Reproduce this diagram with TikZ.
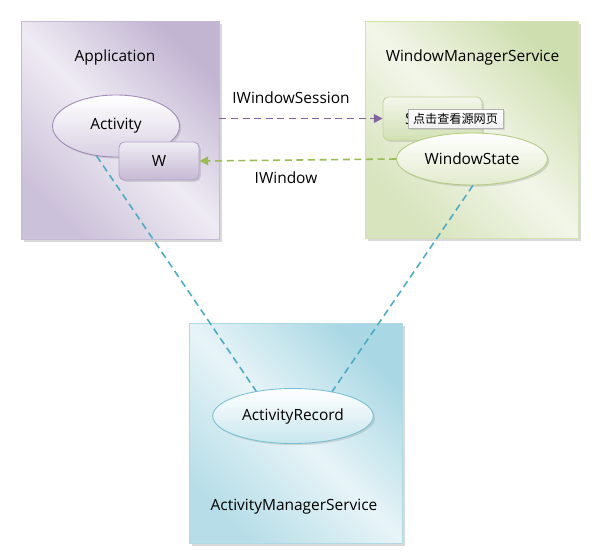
\documentclass[tikz,border=0pt]{standalone}
\usepackage{fontspec}
\setmainfont{Open Sans}
\newfontfamily\cjkfont{Noto Sans CJK SC}
\usetikzlibrary{arrows.meta,shapes.geometric,shadows}

\definecolor{officepurple}{HTML}{8064A2}
\definecolor{officegreen}{HTML}{9BBB59}
\definecolor{officeaqua}{HTML}{4BACC6}

\tikzset{
  panel/.style={draw=#1!45, line width=0.5pt,
    top color=#1!48, bottom color=#1!40, middle color=#1!13, shading angle=-45,
    drop shadow={shadow xshift=1.5pt, shadow yshift=-1.5pt, opacity=0.3}},
  oval/.style={ellipse, draw=#1!75, line width=0.5pt, top color=white, bottom color=#1!30,
    drop shadow={shadow xshift=1pt, shadow yshift=-1pt, opacity=0.25}},
  tab/.style={rectangle, rounded corners=3pt, draw=#1!60, line width=0.5pt,
    top color=#1!12, bottom color=#1!45,
    drop shadow={shadow xshift=1pt, shadow yshift=-1pt, opacity=0.25}},
  hintbox/.style={rectangle, draw=gray!60, line width=0.4pt, top color=white, bottom color=gray!10,
    font=\cjkfont\fontsize{6.9}{8}\selectfont, inner sep=1pt,
    drop shadow={shadow xshift=1pt, shadow yshift=-1pt, opacity=0.25}},
  link/.style={dash pattern=on 4pt off 2.6pt, line width=0.9pt}
}

\begin{document}
\begin{tikzpicture}[x=0.02cm, y=-0.02cm, >={Triangle[length=5pt,width=5pt]},
    font=\fontsize{8.8}{10.5}\selectfont]
  \useasboundingbox (0,0) rectangle (598,551);

  % the three services
  \node[panel=officepurple, minimum width=3.96cm, minimum height=4.36cm] (app) at (120,130) {};
  \node[panel=officegreen, minimum width=4.26cm, minimum height=4.34cm] (wms) at (471.5,129.5) {};
  \node[panel=officeaqua, minimum width=4.26cm, minimum height=4.4cm] (ams) at (295.5,433) {};

  \node (apptitle) at (115,57) {Application};
  \node (wmstitle) at (472.5,57) {WindowManagerService};
  \node (amstitle) at (294,507) {ActivityManagerService};

  % inner parts
  \node[oval=officepurple, minimum width=2.54cm, minimum height=1.24cm] (act) at (116,126) {Activity};
  \node[tab=officepurple, minimum width=1.6cm, minimum height=0.76cm] (w) at (159,161) {W};

  \node[tab=officegreen, minimum width=1.98cm, minimum height=0.86cm] (sess) at (432.5,118.5) {Session};
  \node[oval=officegreen, minimum width=2.92cm, minimum height=1.04cm] (ws) at (472,159) {WindowState};
  \node[hintbox, minimum width=1.9cm, minimum height=0.38cm] (hint) at (455.5,118.5) {点击查看源网页};

  \node[oval=officeaqua, minimum width=3.2cm, minimum height=1.1cm] (rec) at (293,416) {ActivityRecord};

  % connections
  \draw[link, officepurple, ->] (app.east |- sess.west) -- (sess.west);
  \draw[link, officegreen, ->] (ws.west) -- (w.east);
  \draw[link, officeaqua] (act.237) -- (rec.146);
  \draw[link, officeaqua] (ws.-88) -- (rec.32);

  \node (sesslabel) at (291,98) {IWindowSession};
  \node (winlabel) at (286,178) {IWindow};
\end{tikzpicture}
\end{document}
